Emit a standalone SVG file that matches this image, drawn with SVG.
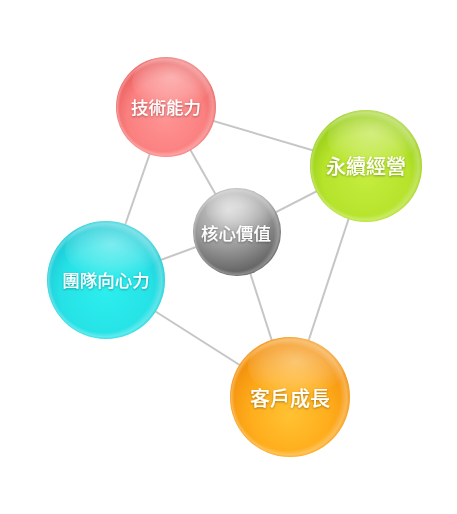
<svg xmlns="http://www.w3.org/2000/svg" width="457" height="514" viewBox="0 0 457 514">
<defs>
<style>
.lnk{stroke:#c6c6c6;stroke-width:2;fill:none}
.lbl{font-family:"Noto Sans CJK TC","Noto Sans CJK SC",sans-serif;font-weight:500;fill:#fff;text-anchor:middle;dominant-baseline:central;filter:url(#ts)}
.gl{fill:url(#gloss)}
.rim{fill:url(#rim)}
</style>
<filter id="ts" x="-20%" y="-40%" width="140%" height="180%">
<feDropShadow dx="0" dy="1" stdDeviation="1" flood-color="#000" flood-opacity="0.35"/>
</filter>
<radialGradient id="gRed" cx="0.5" cy="0.6" r="0.55">
<stop offset="0" stop-color="#ff9494"/><stop offset="0.7" stop-color="#fb8080"/><stop offset="1" stop-color="#ec6161"/>
</radialGradient>
<radialGradient id="gGreen" cx="0.5" cy="0.6" r="0.55">
<stop offset="0" stop-color="#c4ec3e"/><stop offset="0.7" stop-color="#b6e32c"/><stop offset="1" stop-color="#9acf18"/>
</radialGradient>
<radialGradient id="gGray" cx="0.4" cy="0.25" r="0.85">
<stop offset="0" stop-color="#d6d6d6"/><stop offset="0.5" stop-color="#9a9a9a"/><stop offset="1" stop-color="#4c4c4c"/>
</radialGradient>
<radialGradient id="gCyan" cx="0.5" cy="0.6" r="0.55">
<stop offset="0" stop-color="#2ceeee"/><stop offset="0.7" stop-color="#26e2e6"/><stop offset="1" stop-color="#1ccbd6"/>
</radialGradient>
<radialGradient id="gOrange" cx="0.5" cy="0.65" r="0.55">
<stop offset="0" stop-color="#ffc232"/><stop offset="0.6" stop-color="#ffad1c"/><stop offset="1" stop-color="#f4930e"/>
</radialGradient>
<radialGradient id="gloss" cx="0.5" cy="0.4" r="0.6">
<stop offset="0" stop-color="#fff" stop-opacity="0.4"/><stop offset="0.6" stop-color="#fff" stop-opacity="0.2"/><stop offset="1" stop-color="#fff" stop-opacity="0"/>
</radialGradient>
<radialGradient id="rim" cx="0.5" cy="0.5" r="0.5" fx="0.3" fy="0.55">
<stop offset="0.88" stop-color="#fff" stop-opacity="0"/><stop offset="0.96" stop-color="#fff" stop-opacity="0.28"/><stop offset="1" stop-color="#fff" stop-opacity="0.05"/>
</radialGradient>
</defs>
<g id="connectors">
<line class="lnk" x1="166" y1="107" x2="366" y2="166"/>
<line class="lnk" x1="166" y1="107" x2="237" y2="232"/>
<line class="lnk" x1="166" y1="107" x2="106" y2="280"/>
<line class="lnk" x1="366" y1="166" x2="237" y2="232"/>
<line class="lnk" x1="366" y1="166" x2="290" y2="397"/>
<line class="lnk" x1="237" y1="232" x2="106" y2="280"/>
<line class="lnk" x1="237" y1="232" x2="290" y2="397"/>
<line class="lnk" x1="106" y1="280" x2="290" y2="397"/>
</g>
<g id="node-tech">
<circle cx="166" cy="107" r="50" fill="url(#gRed)"/>
<circle class="rim" cx="166" cy="107" r="50"/>
<ellipse class="gl" cx="172" cy="82" rx="40" ry="26"/>
<text class="lbl" x="166" y="106" font-size="17.5">技術能力</text>
</g>
<g id="node-sustain">
<circle cx="366" cy="166" r="56" fill="url(#gGreen)"/>
<circle class="rim" cx="366" cy="166" r="56"/>
<ellipse class="gl" cx="372" cy="138" rx="45" ry="29"/>
<text class="lbl" x="366" y="165" font-size="20">永續經營</text>
</g>
<g id="node-core">
<circle cx="237" cy="232" r="44" fill="url(#gGray)"/>
<circle class="rim" cx="237" cy="232" r="44"/>
<ellipse class="gl" cx="241" cy="210" rx="35" ry="22"/>
<text class="lbl" x="236" y="232" font-size="17.5">核心價值</text>
</g>
<g id="node-team">
<circle cx="106" cy="280" r="59" fill="url(#gCyan)"/>
<circle class="rim" cx="106" cy="280" r="59"/>
<ellipse class="gl" cx="112" cy="250" rx="47" ry="30"/>
<text class="lbl" x="106" y="279" font-size="17.5">團隊向心力</text>
</g>
<g id="node-customer">
<circle cx="290" cy="397" r="60" fill="url(#gOrange)"/>
<circle class="rim" cx="290" cy="397" r="60"/>
<ellipse class="gl" cx="296" cy="367" rx="48" ry="30"/>
<text class="lbl" x="290" y="397" font-size="20">客戶成長</text>
</g>
</svg>
